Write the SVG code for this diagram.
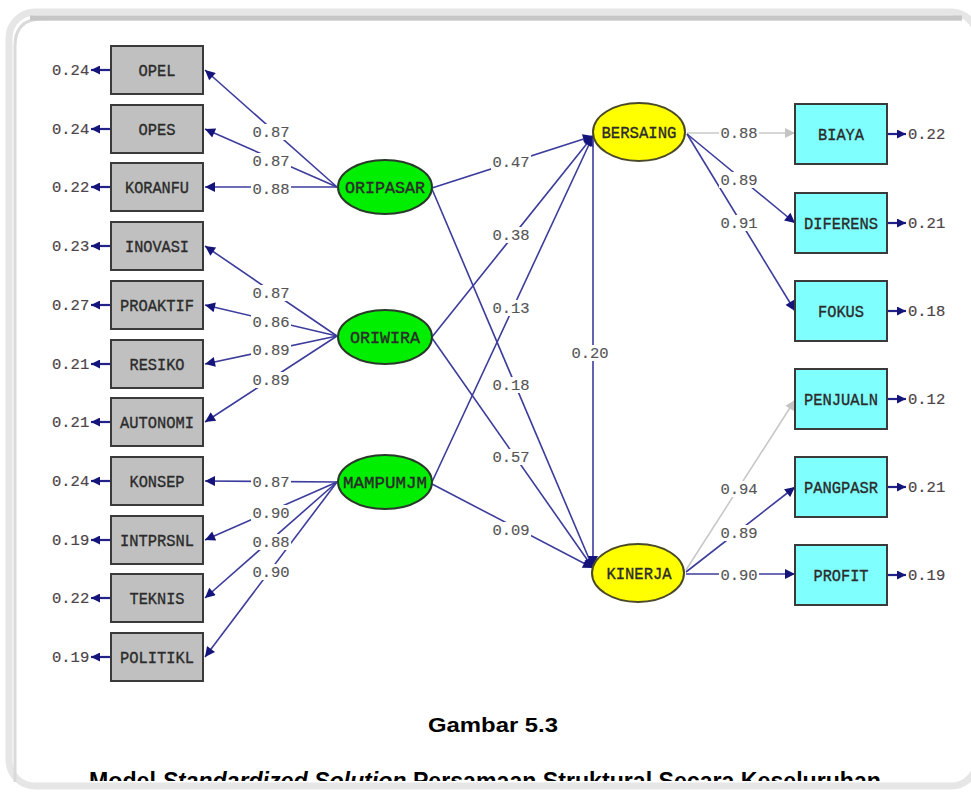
<svg xmlns="http://www.w3.org/2000/svg" width="971" height="794" viewBox="0 0 971 794">
  <defs>
    <style>
      .box-obs { fill: #c0c0c0; stroke: #3a3a3a; stroke-width: 2; }
      .box-end { fill: #80ffff; stroke: #3a3a3a; stroke-width: 2; }
      .lat-exo { fill: #00ee00; stroke: #2a3a2a; stroke-width: 2; }
      .lat-end { fill: #ffff00; stroke: #4a4a2a; stroke-width: 2; }
      .name { font-family: "Liberation Mono", "DejaVu Sans Mono", monospace; font-size: 16.5px; fill: #2b2b2b; stroke: #2b2b2b; stroke-width: 0.35; text-anchor: middle; }
      .err { font-family: "Liberation Mono", "DejaVu Sans Mono", monospace; font-size: 15.5px; fill: #4c4448; stroke: #4c4448; stroke-width: 0.2; }
      .lbl text { font-family: "Liberation Mono", "DejaVu Sans Mono", monospace; font-size: 15.5px; fill: #555555; stroke: #555555; stroke-width: 0.15; text-anchor: middle; }
      .lbl rect { fill: #ffffff; }
      .path { fill: none; stroke: #3c3c9c; stroke-width: 1.6; marker-end: url(#ah); }
      .path-gray { fill: none; stroke: #c8c8c8; stroke-width: 1.6; marker-end: url(#ahg); }
      .errline { fill: none; stroke: #22228a; stroke-width: 2.2; marker-end: url(#ahe); }
      .cap { font-family: "Liberation Sans", Arial, sans-serif; font-weight: bold; fill: #000000; text-anchor: middle; }
    </style>
    <marker id="ah" viewBox="0 0 10 10" refX="10" refY="5" markerWidth="12" markerHeight="10" markerUnits="userSpaceOnUse" orient="auto">
      <path d="M0,0 L10,5 L0,10 z" fill="#14147a"/>
    </marker>
    <marker id="ahg" viewBox="0 0 10 10" refX="10" refY="5" markerWidth="12" markerHeight="10" markerUnits="userSpaceOnUse" orient="auto">
      <path d="M0,0 L10,5 L0,10 z" fill="#c4c4c4"/>
    </marker>
    <marker id="ahe" viewBox="0 0 10 10" refX="10" refY="5" markerWidth="9" markerHeight="9" markerUnits="userSpaceOnUse" orient="auto">
      <path d="M0,0 L10,5 L0,10 z" fill="#14147a"/>
    </marker>
    <clipPath id="frameclip">
      <rect x="0" y="0" width="971" height="781"/>
    </clipPath>
  </defs>

  <!-- page background and rounded frame -->
  <rect x="0" y="0" width="971" height="794" fill="#ffffff"/>
  <rect x="9" y="12" width="968" height="774" rx="26" fill="#ffffff" stroke="#e6e6e6" stroke-width="7"/>
  <path d="M15,782 L15,46 Q15,19 42,19 L962,19" fill="none" stroke="#dadada" stroke-width="3"/>
  <path d="M30,18 L962,18" fill="none" stroke="#c6c6c6" stroke-width="5"/>

  <!-- connectors -->
  <g id="connectors">
    <!-- ORIPASAR loadings -->
    <path class="path" d="M337,187 L205,70"/>
    <path class="path" d="M337,187 L205,129"/>
    <path class="path" d="M337,187 L205,187"/>
    <!-- ORIWIRA loadings -->
    <path class="path" d="M337,336 L205,246"/>
    <path class="path" d="M337,336 L205,305"/>
    <path class="path" d="M337,336 L205,364"/>
    <path class="path" d="M337,336 L205,422"/>
    <!-- MAMPUMJM loadings -->
    <path class="path" d="M337,482 L205,481"/>
    <path class="path" d="M337,482 L205,540"/>
    <path class="path" d="M337,482 L205,598"/>
    <path class="path" d="M337,482 L205,657"/>
    <!-- structural paths -->
    <path class="path" d="M432,188 L593,136"/>
    <path class="path" d="M432,337 L593,136"/>
    <path class="path" d="M432,482 L593,136"/>
    <path class="path" d="M432,189 L593,568"/>
    <path class="path" d="M432,338 L593,568"/>
    <path class="path" d="M432,484 L593,568"/>
    <path class="path" d="M593,138 L593,566"/>
    <!-- BERSAING loadings -->
    <path class="path-gray" d="M687,133 L795,133"/>
    <path class="path" d="M687,134 L795,223"/>
    <path class="path" d="M687,134 L795,311"/>
    <!-- KINERJA loadings -->
    <path class="path-gray" d="M686,570 L795,400"/>
    <path class="path" d="M686,572 L795,487"/>
    <path class="path" d="M686,574 L795,574"/>
    <!-- error variances, left -->
    <path class="errline" d="M111,70 L91,70"/>
    <path class="errline" d="M111,129 L91,129"/>
    <path class="errline" d="M111,187 L91,187"/>
    <path class="errline" d="M111,246 L91,246"/>
    <path class="errline" d="M111,305 L91,305"/>
    <path class="errline" d="M111,364 L91,364"/>
    <path class="errline" d="M111,422 L91,422"/>
    <path class="errline" d="M111,481 L91,481"/>
    <path class="errline" d="M111,540 L91,540"/>
    <path class="errline" d="M111,598 L91,598"/>
    <path class="errline" d="M111,657 L91,657"/>
    <!-- error variances, right -->
    <path class="errline" d="M887,134 L906,134"/>
    <path class="errline" d="M887,223 L906,223"/>
    <path class="errline" d="M887,311 L906,311"/>
    <path class="errline" d="M887,399 L906,399"/>
    <path class="errline" d="M887,487 L906,487"/>
    <path class="errline" d="M887,575 L906,575"/>

    <!-- coefficient labels -->
    <g class="lbl">
      <rect x="251" y="124" width="40" height="16"/><text x="271" y="137">0.87</text>
      <rect x="251" y="153" width="40" height="16"/><text x="271" y="166">0.87</text>
      <rect x="251" y="181" width="40" height="16"/><text x="271" y="194">0.88</text>

      <rect x="251" y="285" width="40" height="16"/><text x="271" y="298">0.87</text>
      <rect x="251" y="314" width="40" height="16"/><text x="271" y="327">0.86</text>
      <rect x="251" y="342" width="40" height="16"/><text x="271" y="355">0.89</text>
      <rect x="251" y="372" width="40" height="16"/><text x="271" y="385">0.89</text>

      <rect x="251" y="474" width="40" height="16"/><text x="271" y="487">0.87</text>
      <rect x="251" y="505" width="40" height="16"/><text x="271" y="518">0.90</text>
      <rect x="251" y="534" width="40" height="16"/><text x="271" y="547">0.88</text>
      <rect x="251" y="564" width="40" height="16"/><text x="271" y="577">0.90</text>

      <rect x="491" y="154" width="40" height="16"/><text x="511" y="167">0.47</text>
      <rect x="491" y="227" width="40" height="16"/><text x="511" y="240">0.38</text>
      <rect x="491" y="300" width="40" height="16"/><text x="511" y="313">0.13</text>
      <rect x="491" y="377" width="40" height="16"/><text x="511" y="390">0.18</text>
      <rect x="491" y="449" width="40" height="16"/><text x="511" y="462">0.57</text>
      <rect x="491" y="522" width="40" height="16"/><text x="511" y="535">0.09</text>
      <rect x="570" y="345" width="40" height="16"/><text x="590" y="358">0.20</text>

      <rect x="719" y="125" width="40" height="16"/><text x="739" y="138">0.88</text>
      <rect x="719" y="172" width="40" height="16"/><text x="739" y="185">0.89</text>
      <rect x="719" y="215" width="40" height="16"/><text x="739" y="228">0.91</text>
      <rect x="719" y="481" width="40" height="16"/><text x="739" y="494">0.94</text>
      <rect x="719" y="525" width="40" height="16"/><text x="739" y="538">0.89</text>
      <rect x="719" y="567" width="40" height="16"/><text x="739" y="580">0.90</text>
    </g>
  </g>

  <!-- observed indicators, left -->
  <g id="OPEL"><rect class="box-obs" x="111" y="46" width="92" height="48"/><text class="name" x="157" y="76" textLength="37" lengthAdjust="spacingAndGlyphs">OPEL</text><text class="err" x="52" y="75">0.24</text></g>
  <g id="OPES"><rect class="box-obs" x="111" y="105" width="92" height="48"/><text class="name" x="157" y="135" textLength="37" lengthAdjust="spacingAndGlyphs">OPES</text><text class="err" x="52" y="134">0.24</text></g>
  <g id="KORANFU"><rect class="box-obs" x="111" y="163" width="92" height="48"/><text class="name" x="157" y="193" textLength="64" lengthAdjust="spacingAndGlyphs">KORANFU</text><text class="err" x="52" y="192">0.22</text></g>
  <g id="INOVASI"><rect class="box-obs" x="111" y="222" width="92" height="48"/><text class="name" x="157" y="252" textLength="64" lengthAdjust="spacingAndGlyphs">INOVASI</text><text class="err" x="52" y="251">0.23</text></g>
  <g id="PROAKTIF"><rect class="box-obs" x="111" y="281" width="92" height="48"/><text class="name" x="157" y="311" textLength="74" lengthAdjust="spacingAndGlyphs">PROAKTIF</text><text class="err" x="52" y="310">0.27</text></g>
  <g id="RESIKO"><rect class="box-obs" x="111" y="340" width="92" height="48"/><text class="name" x="157" y="370" textLength="55" lengthAdjust="spacingAndGlyphs">RESIKO</text><text class="err" x="52" y="369">0.21</text></g>
  <g id="AUTONOMI"><rect class="box-obs" x="111" y="398" width="92" height="48"/><text class="name" x="157" y="428" textLength="74" lengthAdjust="spacingAndGlyphs">AUTONOMI</text><text class="err" x="52" y="427">0.21</text></g>
  <g id="KONSEP"><rect class="box-obs" x="111" y="457" width="92" height="48"/><text class="name" x="157" y="487" textLength="55" lengthAdjust="spacingAndGlyphs">KONSEP</text><text class="err" x="52" y="486">0.24</text></g>
  <g id="INTPRSNL"><rect class="box-obs" x="111" y="516" width="92" height="48"/><text class="name" x="157" y="546" textLength="74" lengthAdjust="spacingAndGlyphs">INTPRSNL</text><text class="err" x="52" y="545">0.19</text></g>
  <g id="TEKNIS"><rect class="box-obs" x="111" y="574" width="92" height="48"/><text class="name" x="157" y="604" textLength="55" lengthAdjust="spacingAndGlyphs">TEKNIS</text><text class="err" x="52" y="603">0.22</text></g>
  <g id="POLITIKL"><rect class="box-obs" x="111" y="633" width="92" height="48"/><text class="name" x="157" y="663" textLength="74" lengthAdjust="spacingAndGlyphs">POLITIKL</text><text class="err" x="52" y="662">0.19</text></g>

  <!-- exogenous latent variables -->
  <g id="ORIPASAR"><ellipse class="lat-exo" cx="385" cy="187" rx="47" ry="27"/><text class="name" x="385" y="193" textLength="80" lengthAdjust="spacingAndGlyphs">ORIPASAR</text></g>
  <g id="ORIWIRA"><ellipse class="lat-exo" cx="385" cy="337" rx="47" ry="27"/><text class="name" x="385" y="343" textLength="70" lengthAdjust="spacingAndGlyphs">ORIWIRA</text></g>
  <g id="MAMPUMJM"><ellipse class="lat-exo" cx="385" cy="482" rx="47" ry="27"/><text class="name" x="385" y="488" textLength="84" lengthAdjust="spacingAndGlyphs">MAMPUMJM</text></g>

  <!-- endogenous latent variables -->
  <g id="BERSAING"><ellipse class="lat-end" cx="639" cy="132" rx="46" ry="29"/><text class="name" x="639" y="138" textLength="75" lengthAdjust="spacingAndGlyphs">BERSAING</text></g>
  <g id="KINERJA"><ellipse class="lat-end" cx="638" cy="573" rx="46" ry="29"/><text class="name" x="639" y="579" textLength="65" lengthAdjust="spacingAndGlyphs">KINERJA</text></g>

  <!-- observed indicators, right -->
  <g id="BIAYA"><rect class="box-end" x="795" y="104" width="92" height="60"/><text class="name" x="841" y="140" textLength="46" lengthAdjust="spacingAndGlyphs">BIAYA</text><text class="err" x="908" y="139">0.22</text></g>
  <g id="DIFERENS"><rect class="box-end" x="795" y="193" width="92" height="60"/><text class="name" x="841" y="229" textLength="74" lengthAdjust="spacingAndGlyphs">DIFERENS</text><text class="err" x="908" y="228">0.21</text></g>
  <g id="FOKUS"><rect class="box-end" x="795" y="281" width="92" height="60"/><text class="name" x="841" y="317" textLength="46" lengthAdjust="spacingAndGlyphs">FOKUS</text><text class="err" x="908" y="316">0.18</text></g>
  <g id="PENJUALN"><rect class="box-end" x="795" y="369" width="92" height="60"/><text class="name" x="841" y="405" textLength="74" lengthAdjust="spacingAndGlyphs">PENJUALN</text><text class="err" x="908" y="404">0.12</text></g>
  <g id="PANGPASR"><rect class="box-end" x="795" y="457" width="92" height="60"/><text class="name" x="841" y="493" textLength="74" lengthAdjust="spacingAndGlyphs">PANGPASR</text><text class="err" x="908" y="492">0.21</text></g>
  <g id="PROFIT"><rect class="box-end" x="795" y="545" width="92" height="60"/><text class="name" x="841" y="581" textLength="55" lengthAdjust="spacingAndGlyphs">PROFIT</text><text class="err" x="908" y="580">0.19</text></g>

  <!-- caption -->
  <text class="cap" x="493" y="732" font-size="21" textLength="130" lengthAdjust="spacingAndGlyphs">Gambar 5.3</text>
  <g clip-path="url(#frameclip)">
    <text class="cap" x="485" y="789" font-size="24" textLength="792" lengthAdjust="spacingAndGlyphs">Model <tspan font-style="italic">Standardized Solution</tspan> Persamaan Struktural Secara Keseluruhan</text>
  </g>
</svg>
